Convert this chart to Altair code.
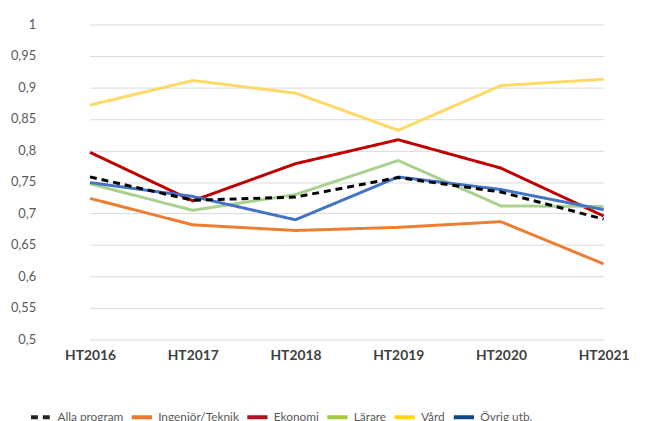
import altair as alt
import pandas as pd

years = ["HT2016", "HT2017", "HT2018", "HT2019", "HT2020", "HT2021"]
series = ["Alla program", "Ingenjör/Teknik", "Ekonomi", "Lärare", "Vård", "Övrig utb."]
alla = [0.758, 0.721, 0.726, 0.757, 0.734, 0.691]
ingenjor = [0.724, 0.682, 0.673, 0.678, 0.687, 0.620]
ekonomi = [0.797, 0.720, 0.779, 0.817, 0.772, 0.696]
larare = [0.747, 0.705, 0.730, 0.784, 0.712, 0.711]
vard = [0.872, 0.911, 0.891, 0.832, 0.903, 0.913]
ovrig = [0.749, 0.727, 0.690, 0.758, 0.738, 0.706]
y_ticks = [0.5, 0.55, 0.6, 0.65, 0.7, 0.75, 0.8, 0.85, 0.9, 0.95, 1.0]

line_colors = ["#000000", "#ED7D31", "#C00000", "#A9D18E", "#FFD966", "#4472C4"]
legend_colors = ["#222222", "#F07828", "#B0101E", "#A5CB3C", "#FFD700", "#0E4A82"]
dashes = [[7, 5], [1, 0], [1, 0], [1, 0], [1, 0], [1, 0]]

values = [alla, ingenjor, ekonomi, larare, vard, ovrig]
rows = []
for s, vals in zip(series, values):
    for y, v in zip(years, vals):
        rows.append({"year": y, "series": s, "value": v})
df = pd.DataFrame(rows)

x_axis = alt.Axis(labelFont="Lato", labelFontWeight="bold", labelFontSize=14,
                  labelColor="#404040", labelPadding=9, ticks=False, domain=False,
                  grid=False, labelAngle=0)
y_axis = alt.Axis(values=y_ticks, labelOverlap=False, tickCount=11,
                  labelExpr="replace(format(datum.value, '.2~f'), '.', ',')",
                  labelFont="Lato", labelFontSize=13, labelColor="#595959",
                  labelPadding=14, ticks=False, domain=False,
                  gridColor="#D9D9D9", gridWidth=1)
x_scale = alt.Scale(type="point", domain=years, range=[41, 561], padding=0)
y_scale = alt.Scale(domain=[0.5, 1.0], nice=False, zero=False)

x_enc = alt.X("year:N", sort=years, title=None, scale=x_scale, axis=x_axis)
y_enc = alt.Y("value:Q", title=None, scale=y_scale, axis=y_axis)

base = alt.Chart(df).encode(
    x=x_enc,
    y=y_enc,
    color=alt.Color("series:N", scale=alt.Scale(domain=series, range=line_colors), legend=None),
    strokeDash=alt.StrokeDash("series:N", scale=alt.Scale(domain=series, range=dashes), legend=None),
)

others = base.mark_line(strokeWidth=3).transform_filter("datum.series != 'Alla program'")
alla_line = base.mark_line(strokeWidth=3).transform_filter("datum.series == 'Alla program'")

leg = dict(title=None, orient="none", direction="horizontal",
           legendX=-21, legendY=385, symbolType="stroke",
           symbolSize=420, symbolStrokeWidth=4,
           labelFont="Lato", labelFontSize=12, labelColor="#595959",
           labelOffset=4, columnPadding=0, labelLimit=200)

legend_layer = alt.Chart(df).mark_line(strokeWidth=3).encode(
    x=x_enc,
    y=y_enc,
    color=alt.Color("series:N", scale=alt.Scale(domain=series, range=legend_colors),
                    legend=alt.Legend(**leg)),
    strokeDash=alt.StrokeDash("series:N", scale=alt.Scale(domain=series, range=dashes),
                              legend=alt.Legend(**leg)),
).transform_filter("false")

chart = alt.layer(others, alla_line, legend_layer).resolve_scale(
    color="independent", strokeDash="independent"
).properties(
    width=614, height=319,
    autosize="none",
    padding={"left": 42, "top": 14, "right": 0, "bottom": 90},
).configure_view(stroke=None)

chart.save("out.html", embed_options={"renderer": "svg", "actions": False})
